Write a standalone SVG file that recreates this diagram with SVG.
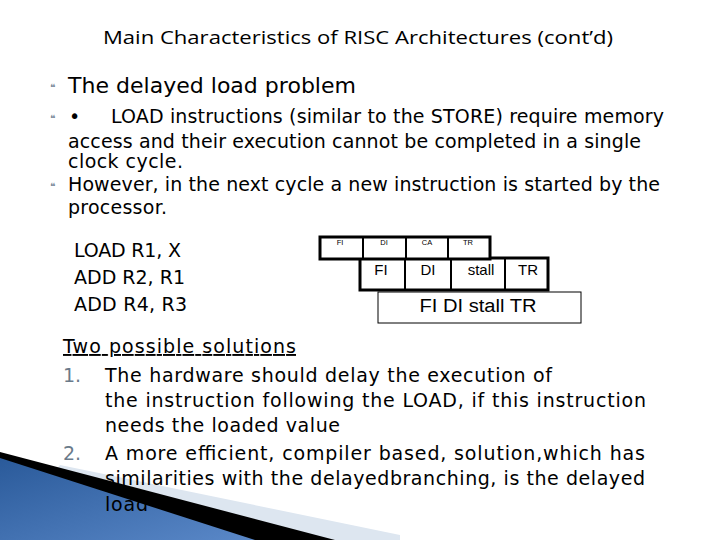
<svg xmlns="http://www.w3.org/2000/svg" width="720" height="540" viewBox="0 0 720 540">
<defs>
<style>
.t{font-family:"DejaVu Sans",Verdana,sans-serif;fill:#000}
.b{font-family:"DejaVu Sans",sans-serif;font-size:10px;fill:#7a8a9a}
.c{fill:#fff;stroke:#000}
.s{font-family:"Liberation Sans",Arial,sans-serif;fill:#000;text-anchor:middle}
</style>
<linearGradient id="g" x1="0" y1="0" x2="1" y2="1"><stop offset="0" stop-color="#2a5a9a"/><stop offset="1" stop-color="#5a88c8"/></linearGradient>
</defs>
<rect width="720" height="540" fill="#fff"/>
<g id="wedge">
<polygon points="60,465 400,535 400,540 0,540" fill="#dde6f0"/>
<polygon points="0,452 335,540 0,540" fill="#000"/>
<polygon points="0,458 255,540 0,540" fill="url(#g)"/>
</g>
<text x="358" y="44" text-anchor="middle" font-family="Open Sans,sans-serif" font-size="18" textLength="510" lengthAdjust="spacingAndGlyphs">Main Characteristics of RISC Architectures (cont’d)</text>
<g id="bullets">
<text class="b" x="50" y="91">❝</text>
<text class="b" x="50" y="122">❝</text>
<text class="b" x="50" y="190">❝</text>
</g>
<text class="t" x="68" y="93" font-size="22" textLength="288">The delayed load problem</text>
<g class="t" font-size="19">
<text x="69" y="123">•</text>
<text x="111" y="123" textLength="553">LOAD instructions (similar to the STORE) require memory</text>
<text x="68" y="148" textLength="573">access and their execution cannot be completed in a single</text>
<text x="68" y="168" textLength="115">clock cycle.</text>
<text x="68" y="191" textLength="592">However, in the next cycle a new instruction is started by the</text>
<text x="68" y="214" textLength="99">processor.</text>
</g>
<g class="t" font-size="19">
<text x="74" y="257" textLength="107">LOAD R1, X</text>
<text x="74" y="284" textLength="111">ADD R2, R1</text>
<text x="74" y="311" textLength="113">ADD R4, R3</text>
</g>
<g id="row3">
<rect class="c" x="378" y="292" width="203" height="31" stroke-width="1"/>
<text class="s" x="478" y="312" font-size="18" textLength="117" lengthAdjust="spacingAndGlyphs">FI  DI stall TR</text>
</g>
<g id="row2">
<rect class="c" x="360" y="258" width="188" height="32" stroke-width="3"/>
<path d="M405 258V290M451 258V290M505 258V290" stroke="#000" stroke-width="2"/>
<g class="s" font-size="15"><text x="381" y="275">FI</text><text x="428" y="275">DI</text><text x="481" y="275">stall</text><text x="528" y="275">TR</text></g>
</g>
<g id="row1">
<rect class="c" x="320" y="237" width="170" height="22" stroke-width="3"/>
<path d="M363 237V259M406 237V259M448 237V259" stroke="#000" stroke-width="2"/>
<g class="s" font-size="7.5"><text x="340" y="245">FI</text><text x="384" y="245">DI</text><text x="427" y="245">CA</text><text x="468" y="245">TR</text></g>
</g>
<g class="t" font-size="19">
<text x="63" y="353" text-decoration="underline" textLength="233">Two possible solutions</text>
<text x="63" y="382" style="fill:#6a7a8a">1.</text>
<text x="105" y="382" textLength="447">The hardware should delay the execution of</text>
<text x="105" y="407" textLength="541">the instruction following the LOAD, if this instruction</text>
<text x="105" y="432" textLength="235">needs the loaded value</text>
<text x="63" y="460" style="fill:#6a7a8a">2.</text>
<text x="105" y="460" textLength="540">A more efficient, compiler based, solution,which has</text>
<text x="105" y="485" textLength="540">similarities with the delayedbranching, is the delayed</text>
<text x="105" y="511" textLength="43">load</text>
</g>
</svg>
